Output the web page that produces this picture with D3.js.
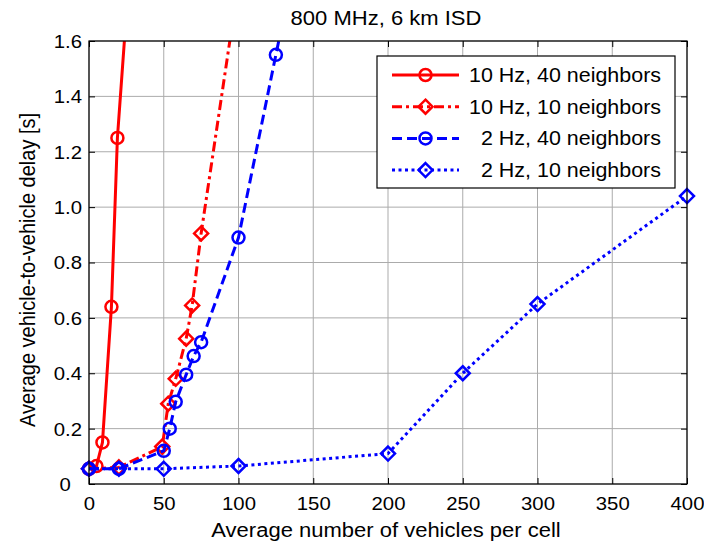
<!DOCTYPE html>
<html>
<head>
<meta charset="utf-8">
<script src="https://cdn.jsdelivr.net/npm/d3@7"></script>
<style>
  body { margin: 0; background: white; }
  text { font-family: "Liberation Sans", Arial, sans-serif; fill: #000; }
</style>
</head>
<body>
<svg></svg>
<script>
const w = 704;
const h = 545;

// data
const xTicks = [0, 50, 100, 150, 200, 250, 300, 350, 400];
const yTicks = [0, 0.2, 0.4, 0.6, 0.8, 1.0, 1.2, 1.4, 1.6];

const names = ["10 Hz, 40 neighbors", "10 Hz, 10 neighbors", "2 Hz, 40 neighbors", "2 Hz, 10 neighbors"];

const hz10n40X = [0, 5, 9, 15, 19, 25];
const hz10n40Y = [0.055, 0.065, 0.15, 0.64, 1.25, 1.7];

const hz10n10X = [0, 20, 49, 53, 58, 65, 69, 75, 100];
const hz10n10Y = [0.055, 0.06, 0.135, 0.29, 0.38, 0.525, 0.645, 0.905, 1.81];

const hz2n40X = [0, 20, 50, 54, 58, 65, 70, 75, 100, 125, 150];
const hz2n40Y = [0.055, 0.055, 0.12, 0.2, 0.297, 0.395, 0.462, 0.512, 0.89, 1.55, 2.2];

const hz2n10X = [0, 20, 50, 100, 200, 250, 300, 400];
const hz2n10Y = [0.055, 0.055, 0.055, 0.065, 0.11, 0.40, 0.65, 1.04];

const series = [
    {name: names[0], xs: hz10n40X, ys: hz10n40Y, color: "#ff0000", dash: null, marker: "circle"},
    {name: names[1], xs: hz10n10X, ys: hz10n10Y, color: "#ff0000", dash: "10,4,3,4", marker: "diamond"},
    {name: names[2], xs: hz2n40X, ys: hz2n40Y, color: "#0000ff", dash: "10,5", marker: "circle"},
    {name: names[3], xs: hz2n10X, ys: hz2n10Y, color: "#0000ff", dash: "3,3.5", marker: "diamond"},
];

const svg = d3.select("svg").attr("width", w).attr("height", h);

const pL = 89, pR = 687, pT = 41, pB = 484;
const x = d3.scaleLinear().domain([0, 400]).range([pL, pR]);
const y = d3.scaleLinear().domain([0, 1.6]).range([pB, pT]);

// stretch text a bit horizontally like the (resized) original
function stretch(sel, k = 1.1) {
    sel.each(function() {
        const l = this.getComputedTextLength();
        d3.select(this).attr("textLength", l * k).attr("lengthAdjust", "spacingAndGlyphs");
    });
}

svg.append("rect").attr("x", pL).attr("y", pT).attr("width", pR - pL).attr("height", pB - pT).attr("fill", "white");

// grid
const grid = svg.append("g").attr("stroke", "#ababab").attr("stroke-width", 1);
grid.selectAll("line.gx").data(xTicks).join("line").attr("class", "gx")
    .attr("x1", d => x(d)).attr("x2", d => x(d)).attr("y1", pT).attr("y2", pB);
grid.selectAll("line.gy").data(yTicks).join("line").attr("class", "gy")
    .attr("y1", d => y(d)).attr("y2", d => y(d)).attr("x1", pL).attr("x2", pR);

// axes with inward ticks
const tl = 6;
const gx = svg.append("g").attr("transform", `translate(0,${pB})`)
    .call(d3.axisBottom(x).tickValues(xTicks).tickSize(-tl).tickFormat(d3.format("d")));
const gy = svg.append("g").attr("transform", `translate(${pL},0)`)
    .call(d3.axisLeft(y).tickValues(yTicks).tickSize(-tl)
        .tickFormat(d => d === 0 ? "0\u00a0\u00a0" : d.toFixed(1)));
const gt = svg.append("g").attr("transform", `translate(0,${pT})`)
    .call(d3.axisTop(x).tickValues(xTicks).tickSize(-tl).tickFormat(""));
const gr = svg.append("g").attr("transform", `translate(${pR},0)`)
    .call(d3.axisRight(y).tickValues(yTicks).tickSize(-tl).tickFormat(""));

[gx, gy, gt, gr].forEach(g => {
    g.attr("font-family", null);
    g.select(".domain").remove();
    g.selectAll(".tick line").attr("stroke", "#000").attr("stroke-width", 1);
});
gx.selectAll("text").attr("font-size", 18.5).attr("dy", "0").attr("y", 26);
gy.selectAll("text").attr("font-size", 18.5).attr("dy", "0.35em").attr("x", -7);
stretch(gx.selectAll("text"));
stretch(gy.selectAll("text"));

// lines, clipped to the axes box
svg.append("clipPath").attr("id", "clip")
    .append("rect").attr("x", pL).attr("y", pT).attr("width", pR - pL).attr("height", pB - pT);

const line = d3.line().x(d => x(d[0])).y(d => y(d[1]));
const plot = svg.append("g");

function drawMarker(g, type, cx, cy, color) {
    if (type === "circle") {
        g.append("circle").attr("cx", cx).attr("cy", cy).attr("r", 6)
            .attr("fill", "none").attr("stroke", color).attr("stroke-width", 2.5);
    } else {
        const s = 7;
        g.append("path").attr("d", `M${cx},${cy - s}L${cx + s},${cy}L${cx},${cy + s}L${cx - s},${cy}Z`)
            .attr("fill", "none").attr("stroke", color).attr("stroke-width", 2.5);
    }
}

series.forEach(s => {
    const pts = s.xs.map((v, i) => [v, s.ys[i]]);
    const g = plot.append("g");
    g.append("path")
        .attr("clip-path", "url(#clip)")
        .attr("d", line(pts))
        .attr("fill", "none")
        .attr("stroke", s.color)
        .attr("stroke-width", 3)
        .attr("stroke-dasharray", s.dash);
    pts.filter(p => p[1] <= 1.6).forEach(p => drawMarker(g, s.marker, x(p[0]), y(p[1]), s.color));
});

// box
svg.append("rect").attr("x", pL).attr("y", pT).attr("width", pR - pL).attr("height", pB - pT)
    .attr("fill", "none").attr("stroke", "#000").attr("stroke-width", 1.2);

// legend
const lg = svg.append("g");
lg.append("rect").attr("x", 377).attr("y", 56).attr("width", 298).attr("height", 132)
    .attr("fill", "white").attr("stroke", "#000").attr("stroke-width", 1.2);
series.forEach((s, i) => {
    const ry = 75 + i * 31.7;
    const row = lg.append("g");
    row.append("line").attr("x1", 392).attr("x2", 459).attr("y1", ry).attr("y2", ry)
        .attr("stroke", s.color).attr("stroke-width", 3).attr("stroke-dasharray", s.dash);
    drawMarker(row, s.marker, 425.5, ry, s.color);
    row.append("text").attr("x", 661).attr("y", ry).attr("dy", "0.35em")
        .attr("text-anchor", "end").attr("font-size", 19.5).text(s.name);
});
stretch(lg.selectAll("text"));

// title and axis labels
const title = svg.append("text").attr("x", 386).attr("y", 25).attr("text-anchor", "middle")
    .attr("font-size", 20).text("800 MHz, 6 km ISD");
const xl = svg.append("text").attr("x", 386).attr("y", 537).attr("text-anchor", "middle")
    .attr("font-size", 20).text("Average number of vehicles per cell");
stretch(title);
stretch(xl);
svg.append("text").attr("transform", "translate(35,270) scale(1.1,1) rotate(-90)")
    .attr("text-anchor", "middle").attr("font-size", 20).text("Average vehicle-to-vehicle delay [s]");
</script>
</body>
</html>
